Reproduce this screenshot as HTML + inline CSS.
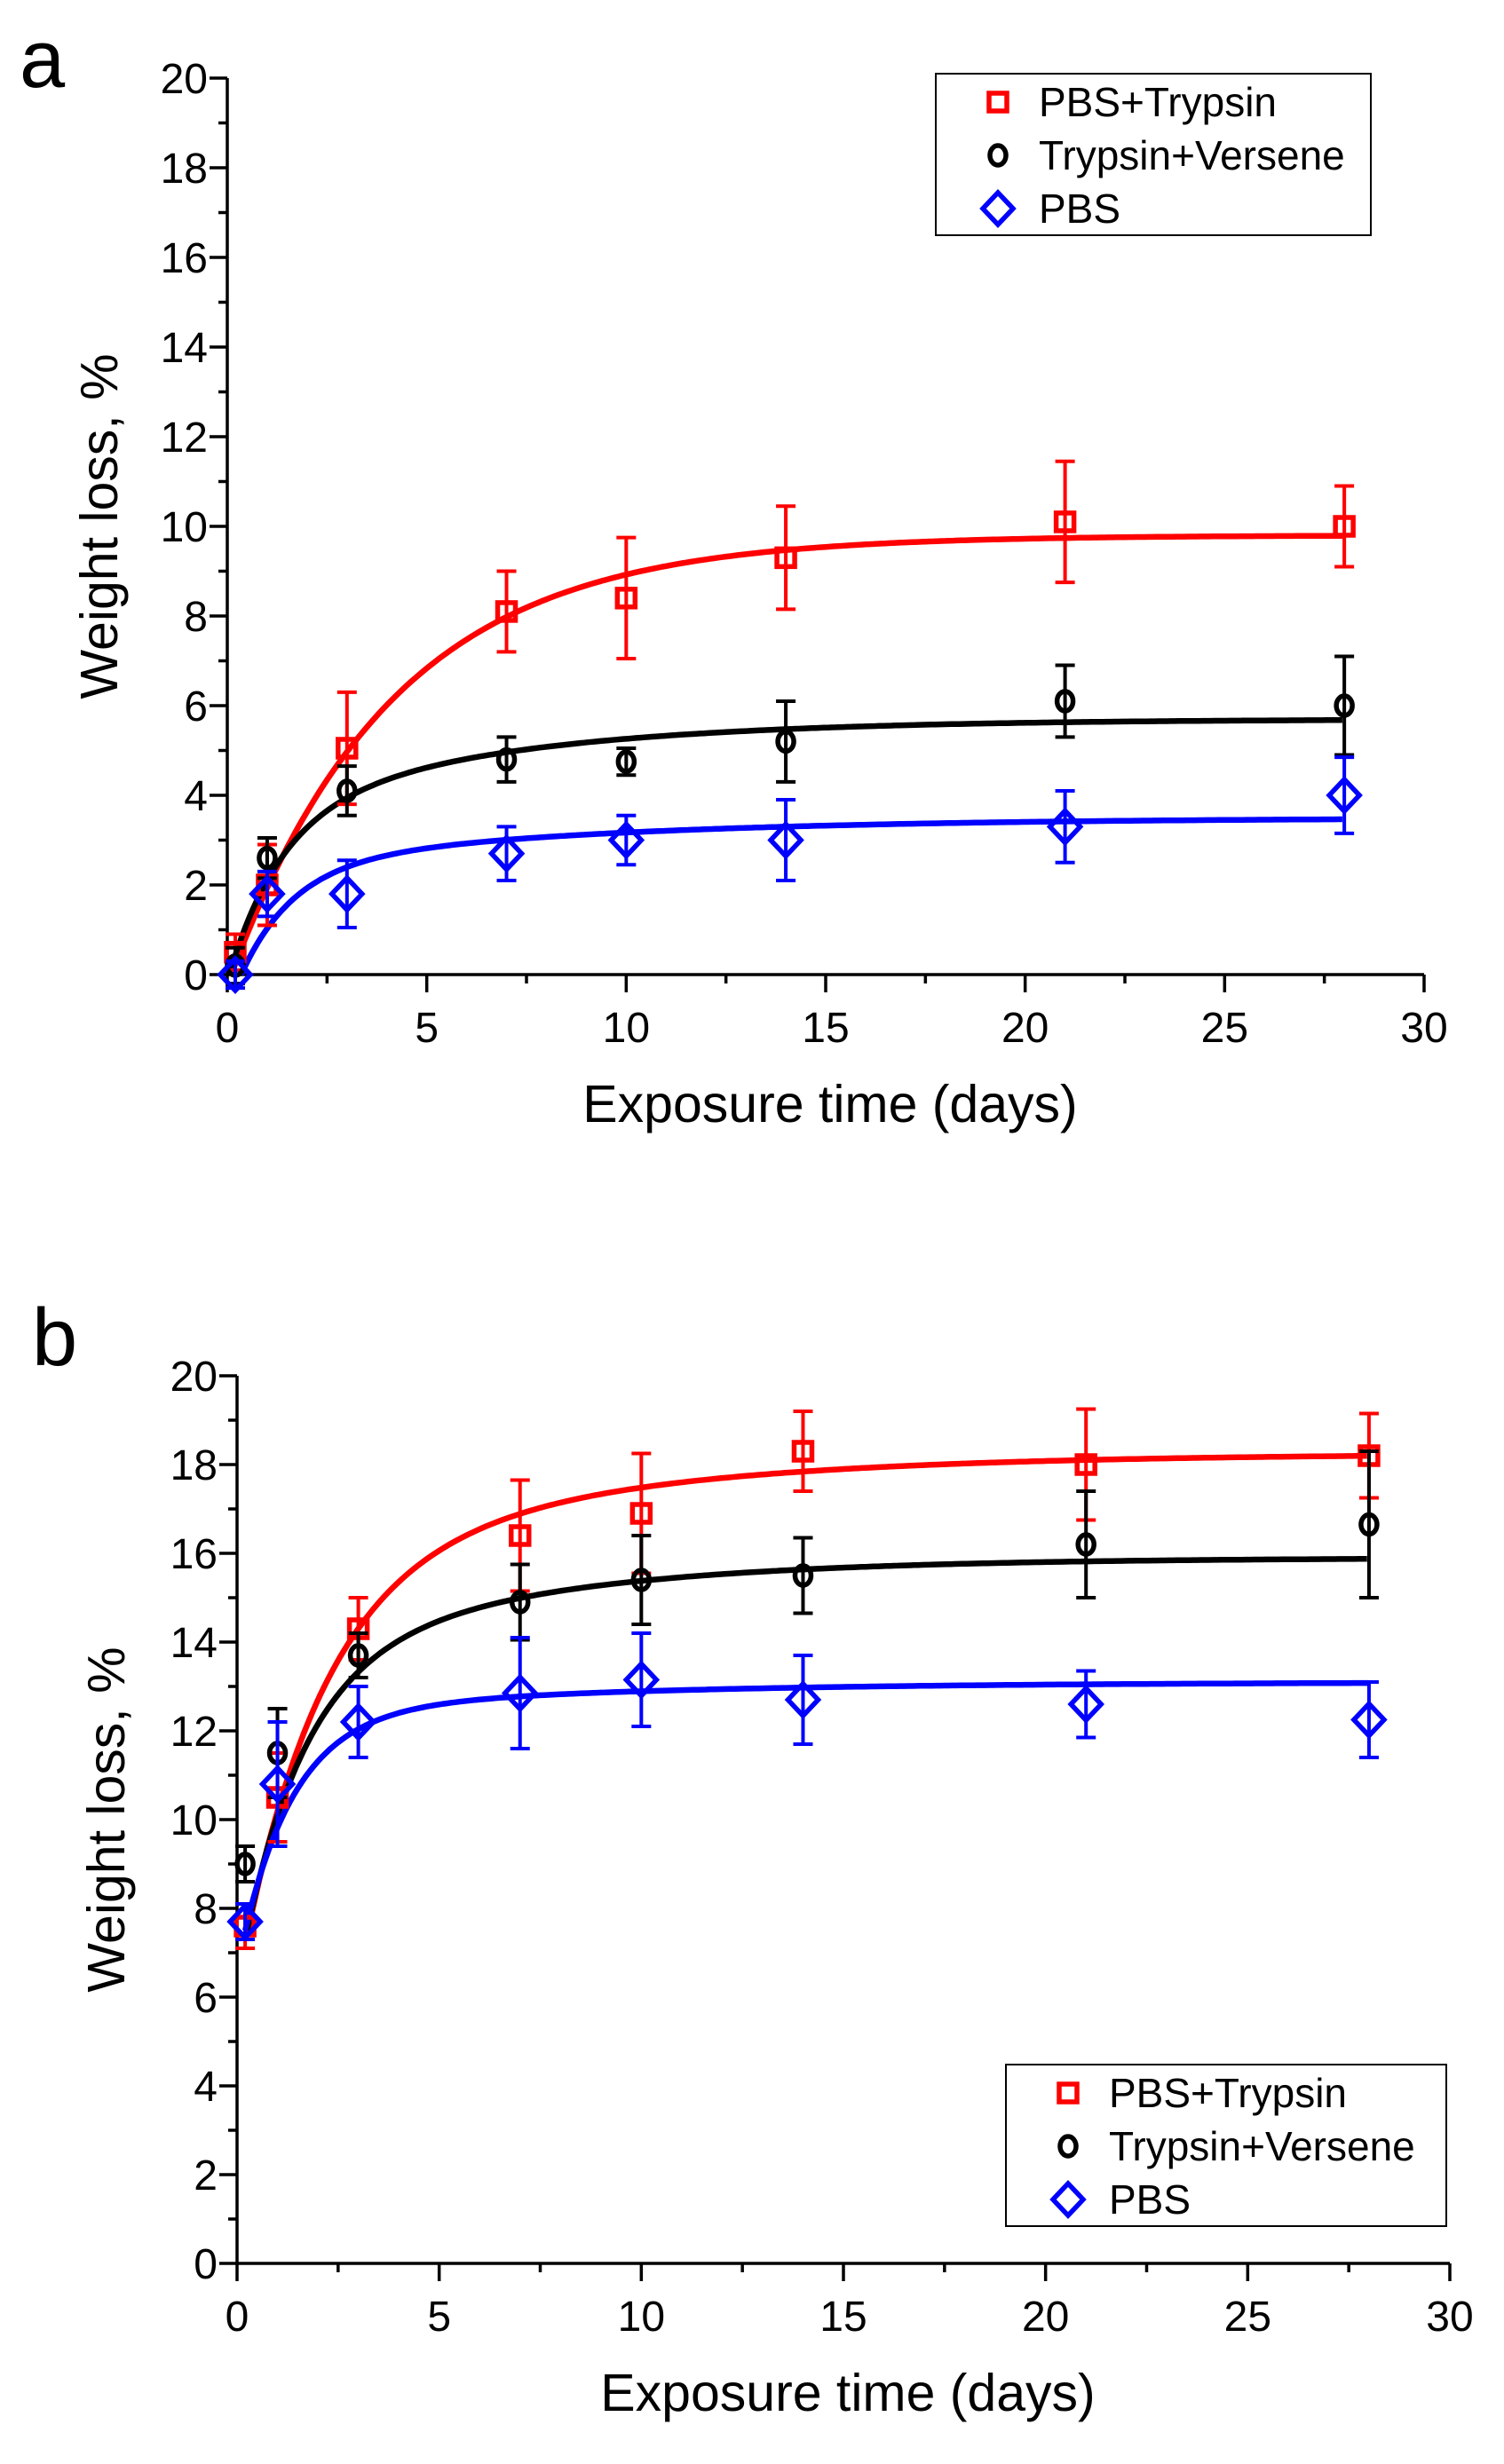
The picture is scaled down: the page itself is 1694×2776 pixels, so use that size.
<!DOCTYPE html>
<html><head><meta charset="utf-8"><style>
html,body{margin:0;padding:0;background:#fff;}
svg{display:block;font-family:"Liberation Sans",Arial,sans-serif;}
</style></head><body>
<svg id="fig" width="1694" height="2776" viewBox="0 0 1694 2776">
<text x="22" y="98" font-size="92">a</text>
<text x="36" y="1538" font-size="92">b</text>
<g id="pa"></g>
<g id="pb"></g>
</svg>
<script>
const days = [0.2, 1, 3, 7, 10, 14, 21, 28];
const xTicks = [0, 5, 10, 15, 20, 25, 30];
const yTicks = [0, 2, 4, 6, 8, 10, 12, 14, 16, 18, 20];
const seriesNames = ["PBS+Trypsin", "Trypsin+Versene", "PBS"];
// Panel a
const aTrypsin = [0.5, 2.0, 5.05, 8.1, 8.4, 9.3, 10.1, 10.0];
const aTrypsinErr = [0.4, 0.9, 1.25, 0.9, 1.35, 1.15, 1.35, 0.9];
const aVersene = [0.2, 2.6, 4.1, 4.8, 4.75, 5.2, 6.1, 6.0];
const aVerseneErr = [0.4, 0.45, 0.55, 0.5, 0.3, 0.9, 0.8, 1.1];
const aPBS = [0.0, 1.8, 1.8, 2.7, 3.0, 3.0, 3.3, 4.0];
const aPBSErr = [0.3, 0.5, 0.75, 0.6, 0.55, 0.9, 0.8, 0.85];
// fit params: [y0, A1, tau1, A2, tau2, t0]
const aFitTrypsin = [0, 9.8, 4.1, 0, 1, 0.1];
const aFitVersene = [0, 3.4, 1.3, 2.3, 6, 0.05];
const aFitPBS = [0, 2.4, 1.3, 1.1, 8, 0.35];
// Panel b
const bTrypsin = [7.6, 10.5, 14.3, 16.4, 16.9, 18.3, 18.0, 18.2];
const bTrypsinErr = [0.5, 1.0, 0.7, 1.25, 1.35, 0.9, 1.25, 0.95];
const bVersene = [9.0, 11.5, 13.7, 14.9, 15.4, 15.5, 16.2, 16.65];
const bVerseneErr = [0.4, 1.0, 0.5, 0.85, 1.0, 0.85, 1.2, 1.65];
const bPBS = [7.7, 10.8, 12.2, 12.85, 13.15, 12.7, 12.6, 12.25];
const bPBSErr = [0.4, 1.4, 0.8, 1.25, 1.05, 1.0, 0.75, 0.85];
const bFitTrypsin = [7.4, 8.0, 2.0, 2.85, 7, 0.25];
const bFitVersene = [7.5, 5.8, 1.5, 2.6, 6, 0.25];
const bFitPBS = [7.5, 4.9, 1.3, 0.7, 8, 0.2];

const NS = "http://www.w3.org/2000/svg";
function mk(parent, tag, attrs) {
  const e = document.createElementNS(NS, tag);
  for (const k in attrs) e.setAttribute(k, attrs[k]);
  parent.appendChild(e);
  return e;
}
function marker(g, type, cx, cy, color) {
  let m;
  if (type === 0) {
    m = mk(g, "rect", {x: cx - 10, y: cy - 10, width: 20, height: 20, fill: "none", stroke: color, "stroke-width": 5.5});
  } else if (type === 1) {
    m = mk(g, "ellipse", {cx: cx, cy: cy, rx: 9, ry: 11, fill: "none", stroke: color, "stroke-width": 5.5});
  } else {
    m = mk(g, "polygon", {points: `${cx},${cy-18} ${cx+17},${cy} ${cx},${cy+18} ${cx-17},${cy}`, fill: "none", stroke: color, "stroke-width": 5.5});
  }
  return m;
}
function drawPanel(g, cfg) {
  const X = v => cfg.x0 + (v / 30) * (cfg.x1 - cfg.x0);
  const Y = v => cfg.y0 - (v / 20) * (cfg.y0 - cfg.y1);
  const colors = ["#ff0000", "#000000", "#0000ff"];
  const ax = mk(g, "path", {d: `M${cfg.x0},${cfg.y1} V${cfg.y0} H${cfg.x1}`, fill: "none", stroke: "#000", "stroke-width": 3.5});
  
  
  xTicks.forEach((t, i) => {
    const x = X(t);
    mk(g, "line", {x1: x, y1: cfg.y0, x2: x, y2: cfg.y0 + 20, stroke: "#000", "stroke-width": 3.5});
    if (i < xTicks.length - 1) {
      const xm = X(t + 2.5);
      mk(g, "line", {x1: xm, y1: cfg.y0, x2: xm, y2: cfg.y0 + 10, stroke: "#000", "stroke-width": 3.5});
    }
    const lb = mk(g, "text", {x: x, y: cfg.y0 + 76, "font-size": 48, "text-anchor": "middle"});
    lb.textContent = t;
    
    
  });
  yTicks.forEach((t, i) => {
    const y = Y(t);
    mk(g, "line", {x1: cfg.x0 - 20, y1: y, x2: cfg.x0, y2: y, stroke: "#000", "stroke-width": 3.5});
    if (i < yTicks.length - 1) {
      const ym = Y(t + 1);
      mk(g, "line", {x1: cfg.x0 - 10, y1: ym, x2: cfg.x0, y2: ym, stroke: "#000", "stroke-width": 3.5});
    }
    const lb = mk(g, "text", {x: cfg.x0 - 22, y: y + 17, "font-size": 48, "text-anchor": "end"});
    lb.textContent = t;
    
    
  });
  const xt = mk(g, "text", {x: (cfg.x0 + cfg.x1) / 2 + 5, y: cfg.y0 + 166, "font-size": 59, "text-anchor": "middle"});
  xt.textContent = "Exposure time (days)";
  
  
  const yc = (cfg.y0 + cfg.y1) / 2;
  const yt = mk(g, "text", {x: cfg.ytx, y: yc, "font-size": 59, "text-anchor": "middle", transform: `rotate(-90 ${cfg.ytx} ${yc})`});
  yt.textContent = "Weight loss, %";
  
  
  cfg.fits.forEach((p, s) => {
    let d = "";
    for (let t = p[5]; t <= 28.001; t += 0.1) {
      const u = t - p[5];
      const v = p[0] + p[1] * (1 - Math.exp(-u / p[2])) + p[3] * (1 - Math.exp(-u / p[4]));
      d += (d ? "L" : "M") + X(t).toFixed(1) + "," + Y(v).toFixed(1);
    }
    const c = mk(g, "path", {d: d, fill: "none", stroke: colors[s], "stroke-width": 6.5});
    
    
  });
  cfg.series.forEach((vals, s) => {
    const errs = cfg.errs[s];
    vals.forEach((v, i) => {
      const x = X(days[i]), y = Y(v), e = errs[i];
      const eg = mk(g, "path", {d: `M${x},${Y(v + e)} V${Y(v - e)} M${x - 11},${Y(v + e)} H${x + 11} M${x - 11},${Y(v - e)} H${x + 11}`, stroke: colors[s], "stroke-width": 4, fill: "none"});
      
      
      const m = marker(g, s, x, y, colors[s]);
      
      
    });
  });
  const L = cfg.leg;
  const lg = mk(g, "g", {});
  
  
  mk(lg, "rect", {x: L[0], y: L[1], width: L[2], height: L[3], fill: "#fff", stroke: "#000", "stroke-width": 2});
  seriesNames.forEach((n, s) => {
    const cy = L[1] + 32 + s * 60;
    marker(lg, s, L[0] + 70, cy, colors[s]);
    const t = mk(lg, "text", {x: L[0] + 116, y: cy + 16, "font-size": 46});
    t.textContent = n;
    
    
  });
}
drawPanel(document.getElementById("pa"), {
  x0: 256, x1: 1604, y0: 1098, y1: 88, ytx: 132,
  series: [aTrypsin, aVersene, aPBS], errs: [aTrypsinErr, aVerseneErr, aPBSErr],
  fits: [aFitTrypsin, aFitVersene, aFitPBS], leg: [1054, 83, 490, 182]
});
drawPanel(document.getElementById("pb"), {
  x0: 267, x1: 1633, y0: 2550, y1: 1550, ytx: 140,
  series: [bTrypsin, bVersene, bPBS], errs: [bTrypsinErr, bVerseneErr, bPBSErr],
  fits: [bFitTrypsin, bFitVersene, bFitPBS], leg: [1133, 2326, 496, 182]
});
</script>
</body></html>
